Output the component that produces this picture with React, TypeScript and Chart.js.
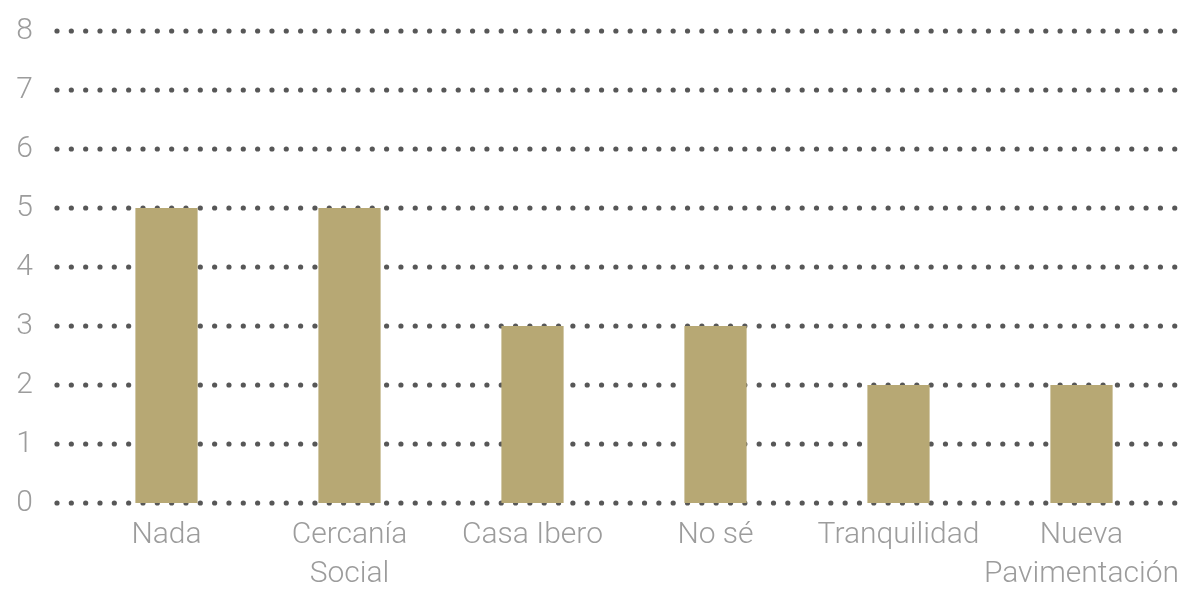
import React, { useEffect, useRef } from "react";
import { Chart, registerables } from "chart.js";

Chart.register(...registerables);

const categories: string[][] = [
  ["Nada"],
  ["Cercanía", "Social"],
  ["Casa Ibero"],
  ["No sé"],
  ["Tranquilidad"],
  ["Nueva", "Pavimentación"],
];
const values: number[] = [5, 5, 3, 3, 2, 2];
const yMin = 0;
const yMax = 8;
const yStep = 1;

const BAR_COLOR = "#b7a874";
const DOT_COLOR = "#575757";
const TEXT_COLOR = "#9c9c9c";
const FONT = "Roboto, 'Open Sans', sans-serif";

const dotGrid = {
  id: "dotGrid",
  beforeDatasetsDraw(chart: any) {
    const { ctx, chartArea, scales } = chart;
    const y = scales.y;
    ctx.save();
    ctx.fillStyle = DOT_COLOR;
    y.ticks.forEach((t: any) => {
      const py = y.getPixelForValue(t.value);
      for (let x = chartArea.left - 18; x <= chartArea.right + 12; x += 14.33) {
        ctx.beginPath();
        ctx.arc(x, py, 2.6, 0, Math.PI * 2);
        ctx.fill();
      }
    });
    ctx.restore();
  },
};

export default function App() {
  const ref = useRef<HTMLCanvasElement | null>(null);
  useEffect(() => {
    if (!ref.current) return;
    const chart = new Chart(ref.current, {
      type: "bar",
      data: {
        labels: categories,
        datasets: [
          {
            data: values,
            backgroundColor: BAR_COLOR,
            borderWidth: 0,
            barPercentage: 0.34,
            categoryPercentage: 1,
          },
        ],
      },
      options: {
        animation: false,
        responsive: false,
        maintainAspectRatio: false,
        layout: { padding: { top: 31, right: 23, left: 0, bottom: 0 } },
        plugins: {
          legend: { display: false },
          title: { display: false },
          tooltip: { enabled: false },
        },
        scales: {
          x: {
            grid: { display: false },
            border: { display: false },
            ticks: {
              color: TEXT_COLOR,
              font: { family: FONT, size: 30, weight: "300", lineHeight: 1.3 },
              padding: 5,
              maxRotation: 0,
              autoSkip: false,
            },
            afterFit(scale: any) {
              scale.height = 86;
              scale.paddingLeft = 0;
              scale.paddingRight = 0;
              scale.paddingTop = 0;
              scale.paddingBottom = 0;
            },
          },
          y: {
            min: yMin,
            max: yMax,
            grid: { display: false },
            border: { display: false },
            ticks: {
              stepSize: yStep,
              color: TEXT_COLOR,
              font: { family: FONT, size: 30, weight: "300" },
              padding: 34,
            },
            afterFit(scale: any) {
              scale.width = 75;
              scale.paddingLeft = 0;
              scale.paddingRight = 0;
              scale.paddingTop = 0;
              scale.paddingBottom = 0;
            },
          },
        },
      },
      plugins: [dotGrid],
    });
    return () => chart.destroy();
  }, []);
  return (
    <div style={{ position: "fixed", left: 0, top: 0, width: 1196, height: 589, background: "#fff" }}>
      <canvas ref={ref} width={1196} height={589} style={{ display: "block" }} />
    </div>
  );
}
